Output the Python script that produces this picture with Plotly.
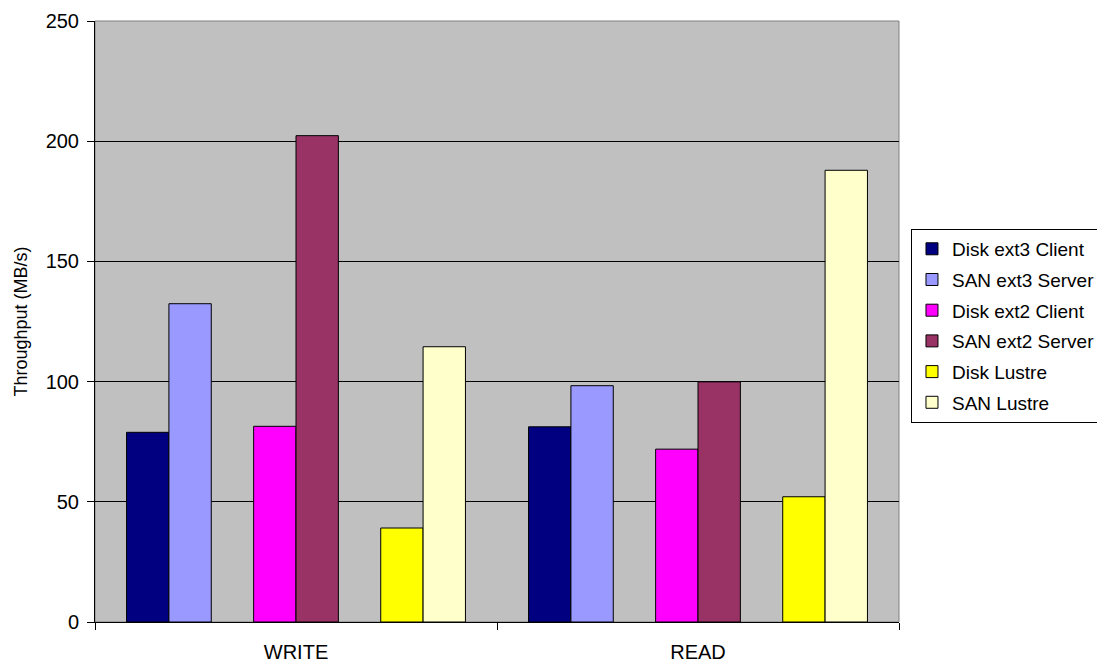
import plotly.graph_objects as go

categories = ["WRITE", "READ"]
series_names = ["Disk ext3 Client", "SAN ext3 Server", "Disk ext2 Client",
                "SAN ext2 Server", "Disk Lustre", "SAN Lustre"]
disk_ext3_client = [78.9, 81.2]
san_ext3_server = [132.4, 98.3]
disk_ext2_client = [81.4, 71.9]
san_ext2_server = [202.3, 99.9]
disk_lustre = [39.1, 52.1]
san_lustre = [114.5, 187.9]
y_ticks = [0, 50, 100, 150, 200, 250]

series_values = [disk_ext3_client, san_ext3_server, disk_ext2_client,
                 san_ext2_server, disk_lustre, san_lustre]
colors = ["#000080", "#9999FF", "#FF00FF", "#993366", "#FFFF00", "#FFFFCC"]
# 8 slots per category (two empty spacer slots), Excel-like gap
slots = [0, 1, 3, 4, 6, 7]
bargap = 0.157
bw = (1 - bargap) / 8
start = -(1 - bargap) / 2

FONT = "Arial, Liberation Sans, sans-serif"

fig = go.Figure()
for name, vals, col, slot in zip(series_names, series_values, colors, slots):
    fig.add_trace(go.Bar(
        name=name, x=categories, y=vals,
        width=bw, offset=start + slot * bw,
        marker=dict(color=col, line=dict(color="#000000", width=1)),
        legendgroup=name,
    ))

# page body has an 8px margin, so the figure is sized/offset to compensate
fig.update_layout(
    width=1097, height=658,
    margin=dict(l=87, r=206, t=13, b=44, pad=0, autoexpand=False),
    paper_bgcolor="white", plot_bgcolor="#C0C0C0",
    barmode="overlay",
    font=dict(family=FONT, size=20, color="black"),
    showlegend=True,
    legend=dict(
        x=1.0149, y=0.654, xanchor="left", yanchor="top",
        bgcolor="white", bordercolor="black", borderwidth=1,
        font=dict(family=FONT, size=19, color="black"),
        tracegroupgap=3, itemwidth=30,
    ),
    xaxis=dict(
        type="category", categoryorder="array", categoryarray=categories,
        showline=True, linecolor="black", linewidth=1, automargin=False,
        ticks="outside", tickson="boundaries", ticklen=7, tickcolor="black",
        ticklabelstandoff=12,
        tickfont=dict(family=FONT, size=20, color="black"),
        showgrid=False, range=[-0.5, 1.5],
    ),
    yaxis=dict(
        range=[0, 250], tickvals=y_ticks, ticktext=[str(v) for v in y_ticks],
        showline=True, linecolor="black", linewidth=1, automargin=False,
        ticks="outside", ticklen=7, tickcolor="black", ticklabelstandoff=4,
        showgrid=True, gridcolor="black", gridwidth=1, zeroline=False,
        tickfont=dict(family=FONT, size=20, color="black"),
        title=dict(text="Throughput (MB/s)", font=dict(family=FONT, size=18, color="black"), standoff=13),
    ),
    shapes=[dict(type="rect", xref="paper", yref="paper", x0=0, x1=1, y0=0, y1=1,
                 line=dict(color="#808080", width=1), layer="below")],
)

fig.write_html("out.html")
